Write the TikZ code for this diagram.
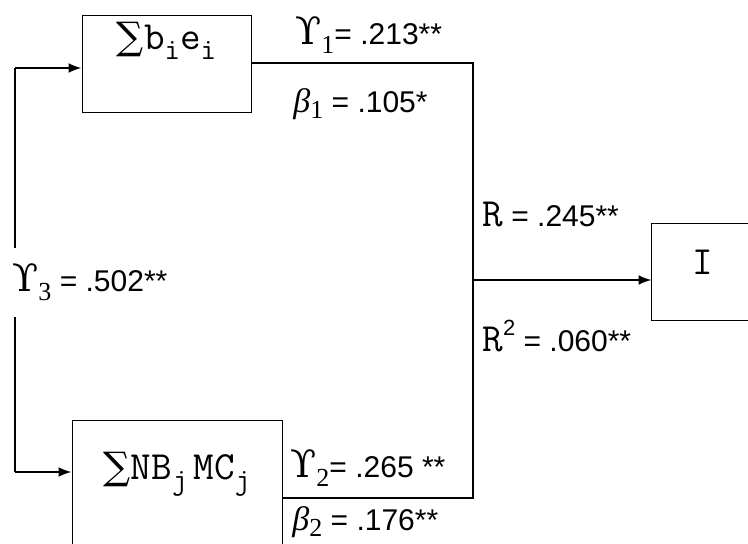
\documentclass[tikz,border=0pt]{standalone}
\usepackage{fontspec}
\setmainfont{Liberation Sans}
\newfontfamily\grkfont{Liberation Serif}
\newfontfamily\upsfont{DejaVu Serif}
\newfontfamily\sumfont{DejaVu Serif}
\usetikzlibrary{arrows.meta}

\newcommand{\coefY}[1]{{\upsfont\fontsize{19}{24}\selectfont ϒ}\raisebox{-4.5pt}{\grkfont\fontsize{13}{15}\selectfont #1}}
\newcommand{\coefB}[1]{{\grkfont\itshape\fontsize{17}{20}\selectfont β}\raisebox{-3pt}{\grkfont\fontsize{13}{15}\selectfont #1}}
\newcommand{\sbs}[1]{\raisebox{-5pt}{\fontsize{15}{17}\selectfont #1}}
\newcommand{\sumsym}{{\sumfont\fontsize{19}{22}\selectfont ∑}}
\newcommand{\monoR}{{\ttfamily\fontsize{20}{22}\selectfont R}}

\tikzset{
  varbox/.style={draw, rectangle, line width=0.5pt, inner sep=0pt, font=\ttfamily\fontsize{20}{22}\selectfont},
  coef/.style={anchor=base west, inner sep=0pt, font=\fontsize{15}{18}\selectfont},
  link/.style={line width=0.6pt},
  feed/.style={line width=1pt, -{Latex[length=6.5pt,width=5pt]}}
}

\begin{document}
\begin{tikzpicture}[x=0.5pt, y=-0.5pt]
	\useasboundingbox (0,0) rectangle (748,544);
	\node[varbox, minimum width=84.5pt, text height=17pt, text depth=31.5pt] (sumbe) at (166.5,64.5) {\sumsym b\sbs{i}e\sbs{i}};
	\node[varbox, minimum width=105pt, text height=29.5pt, text depth=35.5pt] (nbmc) at (177,485) {\sumsym NB\sbs{j}\hspace{3pt}MC\sbs{j}};
	\node[varbox, draw=none, minimum width=51pt, text height=25.5pt, text depth=22.5pt] (outI) at (703,272) {I};
	\draw[line width=0.5pt] (outI.north east) -- (outI.north west) -- (outI.south west) -- (outI.south east);
	\coordinate (lt) at (15,68);
	\coordinate (lb) at (15,472);
	\coordinate (tr) at (473,63);
	\coordinate (br) at (473,498);
	\coordinate (jn) at (473,280);
	\draw[link] (lt) -- (lb);
	\draw[feed] (lt) -- (lt -| sumbe.west);
	\draw[feed] (lb) -- (lb -| nbmc.west);
	\draw[link] (sumbe.east |- tr) -- (tr) -- (br) -- (nbmc.east |- br);
	\draw[feed] (jn) -- (jn -| outI.west);
	\node[coef] (y1) at (295,45) {\coefY{1}= .213**};
	\node[coef] (b1) at (293,113) {\coefB{1} = .105*};
	\node[coef] (r1) at (482,227) {\monoR{} = .245**};
	\node[coef] (r2) at (482,352) {\monoR\raisebox{8pt}{\fontsize{11}{13}\selectfont 2} = .060**};
	\node[coef] (y2) at (290,477) {\coefY{2}= .265 **};
	\node[coef] (b2) at (292,530) {\coefB{2} = .176**};
	\node[coef, fill=white, text height=22pt, text depth=12.5pt] (y3) at (12,292) {\coefY{3} = .502**};
\end{tikzpicture}
\end{document}
